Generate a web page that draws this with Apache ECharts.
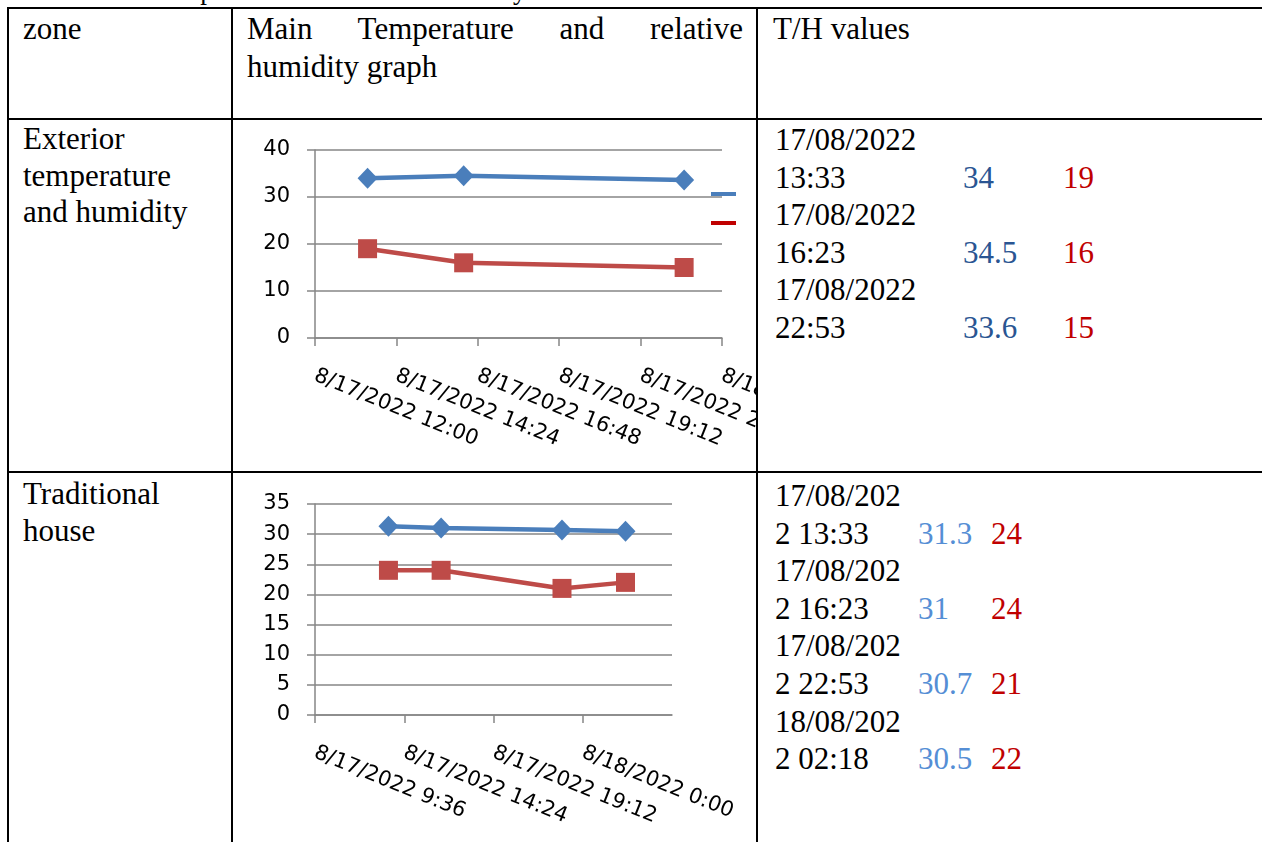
<!DOCTYPE html>
<html>
<head>
<meta charset="utf-8">
<script src="https://cdn.jsdelivr.net/npm/echarts@6/dist/echarts.min.js"></script>
<style>
  body {
    margin: 0;
    width: 1262px;
    height: 842px;
    overflow: hidden;
    position: relative;
    background: #fff;
    font-family: "Liberation Serif", "Times New Roman", serif;
    font-size: 31px;
    color: #000;
  }
  .ln { position: absolute; background: #000; }
  .tx { position: absolute; line-height: 37.6px; }
  .rec { position: relative; height: 75.2px; }
  .rec .d { line-height: 37.6px; }
  .rec .v { position: absolute; top: 37.6px; line-height: 37.6px; }
  .chart { position: absolute; }
</style>
</head>
<body>

<!-- caption, mostly cut off by the top of the page -->
<div class="tx" style="left:2px; top:-25px; font-size:27px; line-height:30px; white-space:nowrap;">Table 3: Main temperature and relative humidity measurements and results</div>

<!-- table grid -->
<div class="ln" style="left:7px; top:7px; width:1255px; height:2px;"></div>
<div class="ln" style="left:7px; top:118px; width:1255px; height:2px;"></div>
<div class="ln" style="left:7px; top:471px; width:1255px; height:2px;"></div>
<div class="ln" style="left:7px; top:7px; width:2px; height:835px;"></div>
<div class="ln" style="left:231px; top:7px; width:2px; height:835px;"></div>
<div class="ln" style="left:756px; top:7px; width:2px; height:835px;"></div>

<!-- header row -->
<div class="tx" style="left:23px; top:10px;">zone</div>
<div class="tx" style="left:247px; top:10px; width:496px; text-align:justify;">Main Temperature and relative humidity graph</div>
<div class="tx" style="left:773px; top:10px;">T/H values</div>

<!-- zone names -->
<div class="tx" style="left:23px; top:121px; line-height:36.6px;">Exterior<br>temperature<br>and humidity</div>
<div class="tx" style="left:23px; top:476px; line-height:36.6px;">Traditional<br>house</div>

<!-- T/H values columns -->
<div class="tx" id="valsExt" style="left:775px; top:121px; width:460px;"></div>
<div class="tx" id="valsHouse" style="left:775px; top:477px; width:460px;"></div>

<div class="chart" id="chartExt" style="left:234px; top:122px; width:522px; height:349px;"></div>
<div class="chart" id="chartHouse" style="left:234px; top:474px; width:522px; height:368px;"></div>

<script type="text/javascript">
// exterior measurements
var extTimes = ['2022-08-17 13:33', '2022-08-17 16:23', '2022-08-17 22:53'];
var extTemp = [34, 34.5, 33.6];
var extHum = [19, 16, 15];

// traditional house measurements
var houseTimes = ['2022-08-17 13:33', '2022-08-17 16:23', '2022-08-17 22:53', '2022-08-18 02:18'];
var houseTemp = [31.3, 31, 30.7, 30.5];
var houseHum = [24, 24, 21, 22];

var seriesNames = ['Temperature (°C)', 'Relative humidity (%)'];

// hours counted from 17/08/2022 00:00
function hoursOf(s) {
    var day = +s.slice(8, 10) - 17;
    return day * 24 + (+s.slice(11, 13)) + (+s.slice(14, 16)) / 60;
}

function axisDate(v) {
    var min = Math.round(v * 60);
    var day = 17 + Math.floor(min / 1440);
    var rem = min % 1440;
    var mm = rem % 60;
    return '8/' + day + '/2022 ' + Math.floor(rem / 60) + ':' + (mm < 10 ? '0' : '') + mm;
}

function tableDate(s) {
    return s.slice(8, 10) + '/' + s.slice(5, 7) + '/' + s.slice(0, 4) + ' ' + s.slice(11, 16);
}

// fill the T/H values column
function fillValues(id, times, temp, hum, dateWidth, tX, hX, tColor, breakAll) {
    var box = document.getElementById(id);
    var html = '';
    for (var i = 0; i < times.length; i++) {
        html += '<div class="rec">'
            + '<div class="d" style="width:' + dateWidth + 'px;' + (breakAll ? 'word-break:break-all;' : '') + '">' + tableDate(times[i]) + '</div>'
            + '<span class="v" style="left:' + tX + 'px; color:' + tColor + ';">' + temp[i] + '</span>'
            + '<span class="v" style="left:' + hX + 'px; color:#c00000;">' + hum[i] + '</span>'
            + '</div>';
    }
    box.innerHTML = html;
}
fillValues('valsExt', extTimes, extTemp, extHum, 170, 188, 288, '#2a5592', false);
fillValues('valsHouse', houseTimes, houseTemp, houseHum, 136, 143, 216, '#558ed5', true);

var gray = '#868686';

function makeOption(times, temp, hum, yMax, yStep, xMin, xMax, xStep, grid, xTicks, legend) {
    grid.containLabel = false;
    grid.outerBoundsMode = 'none';
    var opt = {
        animation: false,
        grid: grid,
        xAxis: {
            type: 'value',
            min: xMin,
            max: xMax,
            interval: xStep,
            axisLine: { show: true, lineStyle: { color: gray, width: 1.5 } },
            axisTick: { show: true, inside: false, length: 8, lineStyle: { color: gray, width: 1.5 } },
            splitLine: { show: false },
            axisLabel: {
                rotate: -22,
                margin: 37,
                color: '#000',
                fontFamily: 'DejaVu Sans',
                fontSize: 21,
                showMinLabel: true,
                showMaxLabel: true,
                hideOverlap: false,
                formatter: axisDate
            }
        },
        yAxis: {
            type: 'value',
            min: 0,
            max: yMax,
            interval: yStep,
            axisLine: { show: true, lineStyle: { color: gray, width: 1.5 } },
            axisTick: { show: true, inside: false, length: 8, lineStyle: { color: gray, width: 1.5 } },
            splitLine: { show: true, lineStyle: { color: gray, width: 1.5 } },
            axisLabel: { margin: 25, color: '#000', fontFamily: 'DejaVu Sans', fontSize: 21 }
        },
        series: [
            {
                name: seriesNames[0],
                type: 'line',
                data: times.map(function (t, i) { return [hoursOf(t), temp[i]]; }),
                symbol: 'diamond',
                symbolSize: [20, 21],
                lineStyle: { width: 4.5, color: '#4a7ebb' },
                itemStyle: { color: '#4a7ebb' },
                z: 3
            },
            {
                name: seriesNames[1],
                type: 'line',
                data: times.map(function (t, i) { return [hoursOf(t), hum[i]]; }),
                symbol: 'rect',
                symbolSize: 19,
                lineStyle: { width: 4.5, color: '#be4b48' },
                itemStyle: { color: '#be4b48' },
                z: 2
            }
        ]
    };
    if (xTicks) {
        opt.xAxis.axisTick.customValues = xTicks;
        opt.xAxis.axisLabel.customValues = xTicks;
    }
    if (legend) {
        opt.legend = legend;
    }
    return opt;
}

var chartExt = echarts.init(document.getElementById('chartExt'));
chartExt.setOption(makeOption(extTimes, extTemp, extHum, 40, 10, 12, 24, 2.4,
    { left: 81, top: 28, right: 34, bottom: 133 },
    null,
    {
        orient: 'vertical',
        left: 472,
        top: 56,
        icon: 'rect',
        itemWidth: 25,
        itemHeight: 4,
        itemGap: 7,
        data: [
            { name: seriesNames[0], itemStyle: { color: '#4a7ebb' } },
            { name: seriesNames[1], itemStyle: { color: '#c00000' } }
        ],
        textStyle: { fontSize: 20, lineHeight: 22, padding: [0, 0, 0, 30], color: '#000' }
    }));

var chartHouse = echarts.init(document.getElementById('chartHouse'));
chartHouse.setOption(makeOption(houseTimes, houseTemp, houseHum, 35, 5, 9.6, 28.8, 4.8,
    { left: 81, top: 30, right: 84, bottom: 127 },
    [9.6, 14.4, 19.2, 24],
    null));
</script>
</body>
</html>
